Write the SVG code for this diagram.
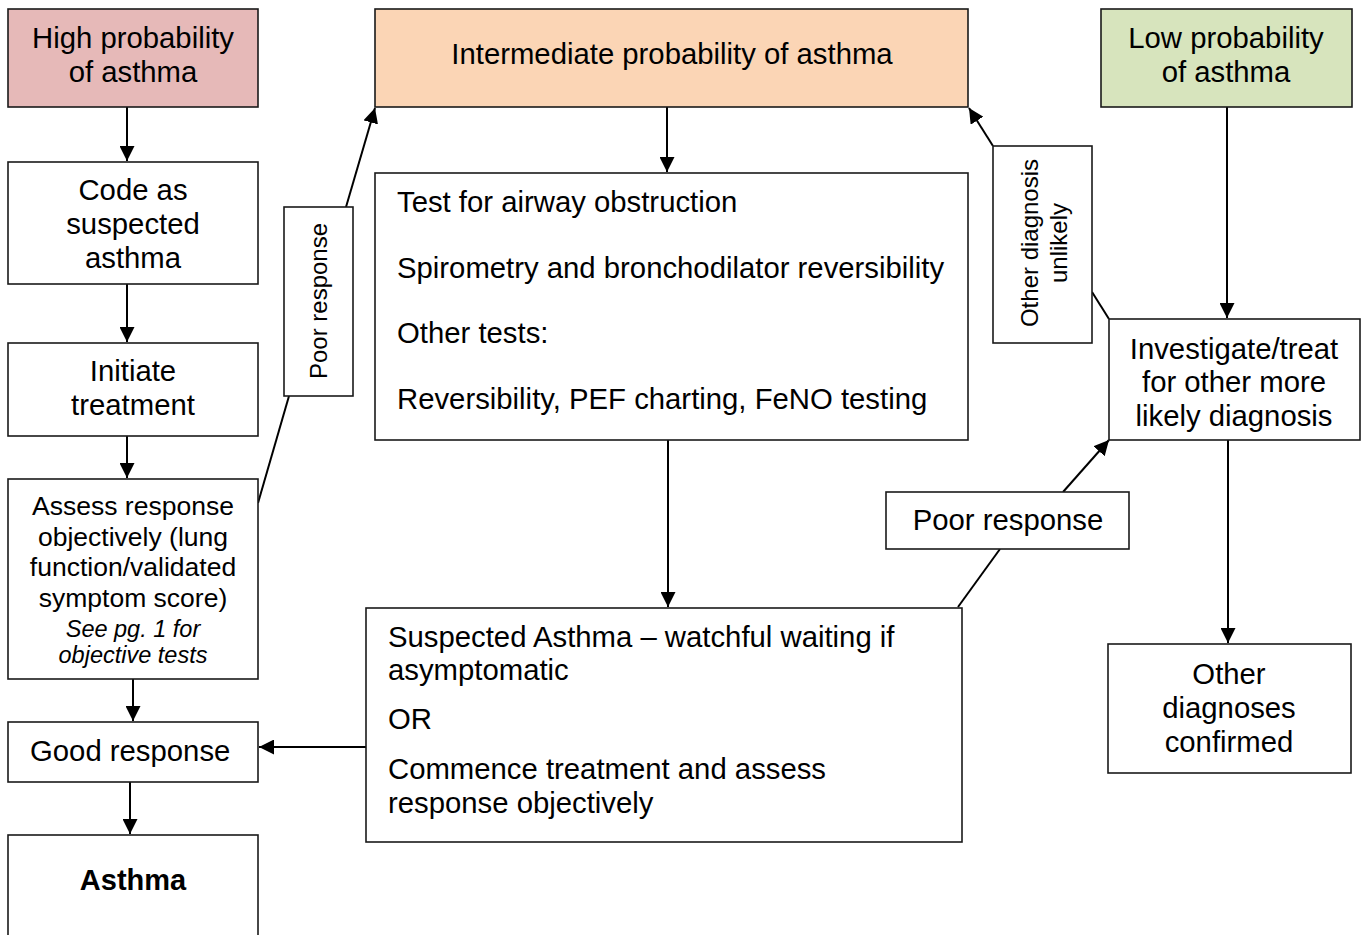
<svg xmlns="http://www.w3.org/2000/svg" width="1365" height="935" viewBox="0 0 1365 935">
<style>
.box{fill:#fff;stroke:#1a1a1a;stroke-width:1.6}
.t{font-family:"Liberation Sans",Arial,sans-serif;font-size:29.3px;fill:#000}
.m{text-anchor:middle}
.s{font-size:26.5px}
.i{font-style:italic;font-size:23.5px}
.r{font-size:24px}
.b{font-weight:bold;font-size:29px}
.c{fill:none;stroke:#000;stroke-width:2}
</style>
<defs>
<marker id="ah" markerUnits="userSpaceOnUse" markerWidth="16" markerHeight="15" refX="15" refY="7.5" orient="auto">
<path d="M0,0 L15,7.5 L0,15 Z" fill="#000"/>
</marker>
</defs>
<rect width="1365" height="935" fill="#fff"/>

<g id="connectors">
<line class="c" x1="127" y1="107" x2="127" y2="161" marker-end="url(#ah)"/>
<line class="c" x1="127" y1="284" x2="127" y2="342" marker-end="url(#ah)"/>
<line class="c" x1="127" y1="436" x2="127" y2="478" marker-end="url(#ah)"/>
<line class="c" x1="133" y1="679" x2="133" y2="721" marker-end="url(#ah)"/>
<line class="c" x1="130" y1="782" x2="130" y2="834" marker-end="url(#ah)"/>
<line class="c" x1="258" y1="503" x2="289" y2="396"/>
<line class="c" x1="346" y1="207" x2="375" y2="108" marker-end="url(#ah)"/>
<line class="c" x1="667" y1="107" x2="667" y2="172" marker-end="url(#ah)"/>
<line class="c" x1="668" y1="440" x2="668" y2="607" marker-end="url(#ah)"/>
<line class="c" x1="366" y1="747" x2="259" y2="747" marker-end="url(#ah)"/>
<line class="c" x1="958" y1="607" x2="1000" y2="549"/>
<line class="c" x1="1063" y1="492" x2="1109" y2="440" marker-end="url(#ah)"/>
<line class="c" x1="1109" y1="319" x2="1092" y2="292"/>
<line class="c" x1="993" y1="146" x2="969" y2="108" marker-end="url(#ah)"/>
<line class="c" x1="1227" y1="107" x2="1227" y2="318" marker-end="url(#ah)"/>
<line class="c" x1="1228" y1="440" x2="1228" y2="643" marker-end="url(#ah)"/>
</g>

<g id="high">
<rect class="box" x="8" y="9" width="250" height="98" style="fill:#e6b9b8"/>
<text class="t m" x="133" y="48">High probability</text>
<text class="t m" x="133" y="82">of asthma</text>
</g>
<g id="code">
<rect class="box" x="8" y="162" width="250" height="122"/>
<text class="t m" x="133" y="200">Code as</text>
<text class="t m" x="133" y="234">suspected</text>
<text class="t m" x="133" y="268">asthma</text>
</g>
<g id="initiate">
<rect class="box" x="8" y="343" width="250" height="93"/>
<text class="t m" x="133" y="381">Initiate</text>
<text class="t m" x="133" y="415">treatment</text>
</g>
<g id="assess">
<rect class="box" x="8" y="479" width="250" height="200"/>
<text class="t m s" x="133" y="515">Assess response</text>
<text class="t m s" x="133" y="546">objectively (lung</text>
<text class="t m s" x="133" y="576">function/validated</text>
<text class="t m s" x="133" y="607">symptom score)</text>
<text class="t m i" x="133" y="637">See pg. 1 for</text>
<text class="t m i" x="133" y="663">objective tests</text>
</g>
<g id="good">
<rect class="box" x="8" y="722" width="250" height="60"/>
<text class="t" x="30" y="761">Good response</text>
</g>
<g id="asthma">
<rect class="box" x="8" y="835" width="250" height="110"/>
<text class="t m b" x="133" y="890">Asthma</text>
</g>
<g id="poor-left">
<rect class="box" x="284" y="207" width="69" height="189"/>
<text class="t m r" transform="translate(318,301) rotate(-90)" dominant-baseline="central">Poor response</text>
</g>
<g id="intermediate">
<rect class="box" x="375" y="9" width="593" height="98" style="fill:#fbd5b5"/>
<text class="t m" x="672" y="64">Intermediate probability of asthma</text>
</g>
<g id="tests">
<rect class="box" x="375" y="173" width="593" height="267"/>
<text class="t" x="397" y="212">Test for airway obstruction</text>
<text class="t" x="397" y="278">Spirometry and bronchodilator reversibility</text>
<text class="t" x="397" y="343">Other tests:</text>
<text class="t" x="397" y="409">Reversibility, PEF charting, FeNO testing</text>
</g>
<g id="suspected">
<rect class="box" x="366" y="608" width="596" height="234"/>
<text class="t" x="388" y="647">Suspected Asthma – watchful waiting if</text>
<text class="t" x="388" y="680">asymptomatic</text>
<text class="t" x="388" y="729">OR</text>
<text class="t" x="388" y="779">Commence treatment and assess</text>
<text class="t" x="388" y="813">response objectively</text>
</g>
<g id="poor-right">
<rect class="box" x="886" y="492" width="243" height="57"/>
<text class="t m" x="1008" y="530">Poor response</text>
</g>
<g id="other-unlikely">
<rect class="box" x="993" y="146" width="99" height="197"/>
<text class="t m r" transform="translate(1029,243) rotate(-90)" dominant-baseline="central">Other diagnosis</text>
<text class="t m r" transform="translate(1058,243) rotate(-90)" dominant-baseline="central">unlikely</text>
</g>
<g id="low">
<rect class="box" x="1101" y="9" width="251" height="98" style="fill:#d7e4bd"/>
<text class="t m" x="1226" y="48">Low probability</text>
<text class="t m" x="1226" y="82">of asthma</text>
</g>
<g id="investigate">
<rect class="box" x="1109" y="319" width="251" height="121"/>
<text class="t m" x="1234" y="359">Investigate/treat</text>
<text class="t m" x="1234" y="392">for other more</text>
<text class="t m" x="1234" y="426">likely diagnosis</text>
</g>
<g id="confirmed">
<rect class="box" x="1108" y="644" width="243" height="129"/>
<text class="t m" x="1229" y="684">Other</text>
<text class="t m" x="1229" y="718">diagnoses</text>
<text class="t m" x="1229" y="752">confirmed</text>
</g>
</svg>
